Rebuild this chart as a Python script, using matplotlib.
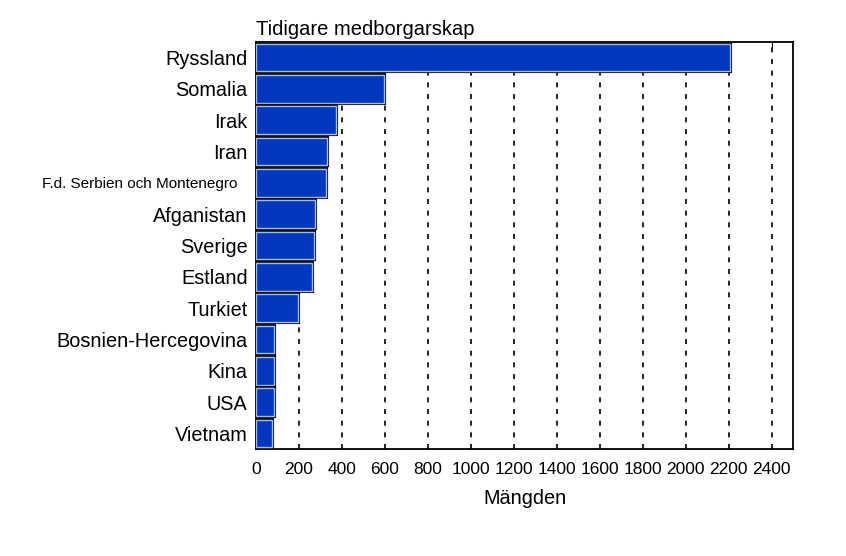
import matplotlib
matplotlib.use("Agg")
import matplotlib.pyplot as plt
import matplotlib.patheffects as pe

# ------------------------------------------------------------------------
countries = [
    "Ryssland", "Somalia", "Irak", "Iran", "F.d. Serbien och Montenegro",
    "Afganistan", "Sverige", "Estland", "Turkiet", "Bosnien-Hercegovina",
    "Kina", "USA", "Vietnam",
]
counts = [2205, 595, 373, 330, 325, 276, 270, 262, 196, 85, 85, 85, 76]
x_ticks = list(range(0, 2401, 200))
# ------------------------------------------------------------------------

plt.rcParams["font.family"] = ["Liberation Sans", "DejaVu Sans"]

fig = plt.figure(figsize=(8.46, 5.56), dpi=100)
ax = fig.add_axes([0.3026, 0.1924, 0.6348, 0.7321])

ypos = list(range(len(countries)))
bars = ax.barh(ypos, counts, height=0.88, color="#0038C0",
               edgecolor="#A8B8D8", linewidth=1.0, zorder=3)
for b in bars:
    b.set_path_effects([pe.Stroke(linewidth=3.0, foreground="#111111"),
                        pe.Normal()])

ax.set_ylim(len(countries) - 0.5, -0.5)
ax.set_xlim(0, 2500)
ax.set_xticks(x_ticks)
ax.set_xticklabels([str(t) for t in x_ticks], fontsize=12.5)
ax.set_yticks(ypos)
ax.set_yticklabels(countries, fontsize=14.3)
for lbl in ax.get_yticklabels():
    if lbl.get_text().startswith("F.d."):
        lbl.set_fontsize(11)
        lbl.set_x(-0.02)

ax.tick_params(axis="y", length=0, pad=6)
ax.tick_params(axis="x", direction="in", length=4, top=True,
               bottom=False, pad=9, color="black")

ax.grid(axis="x", color="black", linestyle=(0, (3, 4)), linewidth=1.2,
        zorder=1)
ax.set_axisbelow(True)
for s in ax.spines.values():
    s.set_linewidth(1.3)
    s.set_color("black")

ax.set_title("Tidigare medborgarskap", loc="left", fontsize=14.5, pad=5)
ax.set_xlabel("Mängden", fontsize=14.3, labelpad=9)

fig.savefig("out.png", dpi=100, facecolor="white")
